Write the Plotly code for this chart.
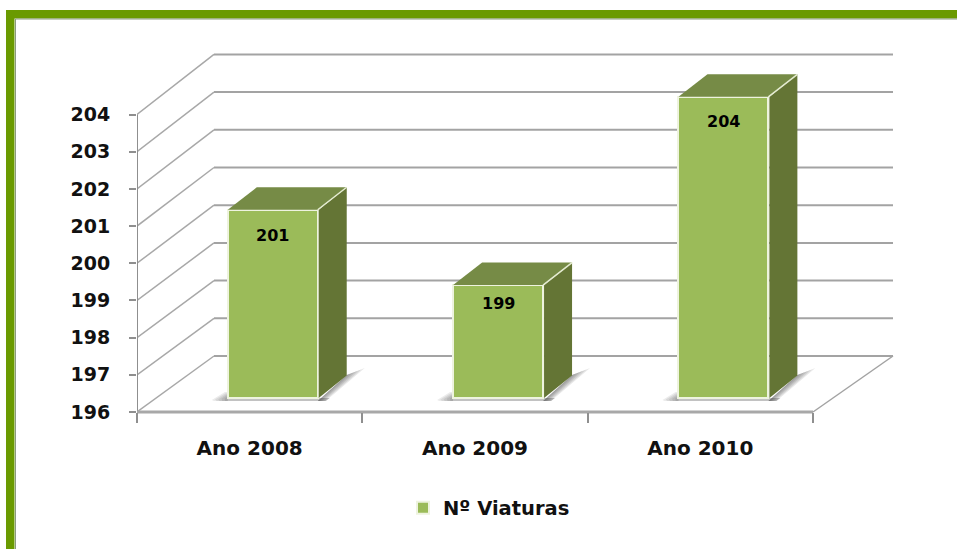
import plotly.graph_objects as go

categories = ["Ano 2008", "Ano 2009", "Ano 2010"]
series_name = "Nº Viaturas"
values = [201, 199, 204]
y_ticks = [196, 197, 198, 199, 200, 201, 202, 203, 204]
label_drop = [-26, -18, -25]

W, H = 957, 549
X0, X1, FLOOR = 137, 813, 412      # pixel frame of the front plane
BOTTOM = 417                       # lower edge of the drawing area
PX_X = (X1 - X0) / 3
PX_Y = (FLOOR - 114.5) / 8         # value-axis scale
PX_B = 37.65                       # bar scale
BAR_BOTTOM = 398
BAR_OFFSET, BAR_WIDTH = -0.097, 0.399
GREY = "#a3a3a3"

def dx(p): return p / PX_X
def dy(p): return p / PX_Y
def db(p): return p / PX_B

fig = go.Figure()
BACK_L, BACK_R = dx(77), dx(80)
BACK_FLOOR = dy(56)
BACK_SCALE = 37.7 / PX_Y
LEFT, RIGHT = -0.5, 2.5
PLOT_RIGHT = 896
X_MAX = LEFT + dx(PLOT_RIGHT - X0)

def line(x, y, color=GREY, width=2):
    fig.add_trace(go.Scatter(x=x, y=y, mode="lines", xaxis="x", yaxis="y", line=dict(color=color, width=width),
                             showlegend=False, hoverinfo="skip"))

# wall and gridlines
for t in y_ticks:
    back = y_ticks[0] + BACK_FLOOR + (t - y_ticks[0]) * BACK_SCALE
    line([LEFT, LEFT + BACK_L], [t, back], "#a8a8a8", 1.5)
    line([LEFT + BACK_L, RIGHT + BACK_R], [back, back], GREY, 2)
# front value-axis line, floor edges
line([LEFT, LEFT], [y_ticks[0], y_ticks[-1]], "#8f8f8f", 2)
line([LEFT, RIGHT], [y_ticks[0], y_ticks[0]], "#a8a8a8", 3)
line([RIGHT, RIGHT + BACK_R], [y_ticks[0], y_ticks[0] + BACK_FLOOR], GREY, 1.5)

# soft shadows on the floor
base_val = y_ticks[0] + dy(FLOOR - BAR_BOTTOM)
shade_levels = [1.0, 0.8, 0.6, 0.4, 0.2]
for i in range(len(values)):
    x_l = i + BAR_OFFSET
    x_r = x_l + BAR_WIDTH
    polys = [(x_l, [(0, 0), (BAR_WIDTH * PX_X + 12, 0), (BAR_WIDTH * PX_X + 8, 3), (0, 3)], "rgba(0,0,0,0.24)")]
    for k in shade_levels:
        polys.append((x_l, [(0, 3), (0, -6 * k), (-3 * k, -6 * k), (-16 * k, 2 * k), (-14 * k, 3)], "rgba(0,0,0,0.08)"))
        polys.append((x_r, [(0, 3), (29, -23), (29 + 18 * k, -23 - 7 * k),
                            (14.5 + 12.5 * k, -10 - 3 * k), (8 * k, 3)], "rgba(0,0,0,0.09)"))
    for ref, pts, col in polys:
        fig.add_trace(go.Scatter(x=[ref + dx(p[0]) for p in pts], y=[base_val - dy(p[1]) for p in pts],
                                 mode="lines", fill="toself", fillcolor=col, line=dict(width=0),
                                 xaxis="x", yaxis="y", showlegend=False, hoverinfo="skip"))

# front faces
fig.add_trace(go.Bar(x=categories, y=[v - y_ticks[0] for v in values], base=y_ticks[0], name=series_name,
                     width=BAR_WIDTH, offset=BAR_OFFSET, xaxis="x2", yaxis="y2",
                     marker=dict(color="#9BBB59", line=dict(color="#EEF3DF", width=2))))

# side and top faces of each bar
D_X, D_Y = dx(29), db(22.5)
for i, v in enumerate(values):
    x_l = i + BAR_OFFSET
    x_r = x_l + BAR_WIDTH
    b = y_ticks[0]
    fig.add_trace(go.Scatter(x=[x_r + dx(1), x_r + D_X, x_r + D_X, x_r + dx(1)], y=[b, b + D_Y, v + D_Y, v],
                             mode="lines", fill="toself", fillcolor="#647535", line=dict(width=0),
                             xaxis="x3", yaxis="y2", showlegend=False, hoverinfo="skip"))
    fig.add_trace(go.Scatter(x=[x_l, x_l + D_X, x_r + D_X, x_r], y=[v, v + D_Y, v + D_Y, v],
                             mode="lines", fill="toself", fillcolor="#768B46", line=dict(width=0),
                             xaxis="x3", yaxis="y2", showlegend=False, hoverinfo="skip"))
    fig.add_trace(go.Scatter(x=[x_r, x_r + D_X], y=[v, v + D_Y], mode="lines",
                             line=dict(color="#E4EBD0", width=1.5),
                             xaxis="x3", yaxis="y2", showlegend=False, hoverinfo="skip"))

FONT = "DejaVu Sans"

annotations = [dict(x=i + BAR_OFFSET + BAR_WIDTH / 2, y=v, xref="x3", yref="y2", text=f"<b>{v}</b>", showarrow=False,
                    yshift=label_drop[i], font=dict(family=FONT, size=16, color="#000000"))
               for i, v in enumerate(values)]

dom_x = [X0 / W, PLOT_RIGHT / W]
dom_y = [(H - BOTTOM) / H, 1]
y_range = [y_ticks[0] - dy(BOTTOM - FLOOR), y_ticks[0] + dy(FLOOR)]
y2_range = [y_ticks[0] - db(BOTTOM - BAR_BOTTOM), y_ticks[0] + db(BAR_BOTTOM)]

GREEN = "#6A9A00"
shapes = [
    dict(type="rect", xref="paper", yref="paper", x0=6 / W, x1=14.5 / W, y0=0, y1=1 - 10 / H,
         fillcolor=GREEN, line=dict(width=0)),
    dict(type="rect", xref="paper", yref="paper", x0=6 / W, x1=1, y0=1 - 18.5 / H, y1=1 - 10 / H,
         fillcolor=GREEN, line=dict(width=0)),
    dict(type="line", xref="paper", yref="paper", x0=15.5 / W, x1=15.5 / W, y0=0, y1=1 - 19 / H,
         line=dict(color="#8a9a80", width=1)),
    dict(type="line", xref="paper", yref="paper", x0=15.5 / W, x1=1, y0=1 - 19 / H, y1=1 - 19 / H,
         line=dict(color="#8a9a80", width=1)),
]

fig.update_layout(
    width=W, height=H, margin=dict(l=0, r=0, t=0, b=0),
    paper_bgcolor="white", plot_bgcolor="rgba(0,0,0,0)",
    bargap=0, shapes=shapes, annotations=annotations,
    xaxis=dict(domain=dom_x, range=[LEFT, X_MAX], visible=False),
    xaxis2=dict(overlaying="x", type="category", categoryorder="array", categoryarray=categories,
                range=[LEFT, X_MAX], anchor="free", position=(H - FLOOR) / H, side="bottom", tickson="boundaries",
                ticks="outside", ticklen=10, tickwidth=2, tickcolor="#8f8f8f",
                showline=False, showgrid=False, ticklabelstandoff=22,
                tickfont=dict(family=FONT, size=20, color="#111111", weight="bold")),
    xaxis3=dict(overlaying="x", range=[LEFT, X_MAX], visible=False),
    yaxis=dict(domain=dom_y, range=y_range, tickmode="array", tickvals=y_ticks, ticktext=[str(t) for t in y_ticks],
               ticks="outside", ticklen=7, tickwidth=2, tickcolor="#8f8f8f", showgrid=False, zeroline=False,
               showline=False, ticklabelstandoff=15,
               tickfont=dict(family=FONT, size=19, color="#111111", weight="bold")),
    yaxis2=dict(overlaying="y", range=y2_range, visible=False),
    legend=dict(x=0.511, xanchor="center", y=(H - 508) / H, yanchor="middle",
                font=dict(family=FONT, size=19.5, color="#111111", weight="bold"), bgcolor="rgba(0,0,0,0)"),
    showlegend=True,
)
fig.write_html("out.html", config=dict(displayModeBar=False),
               post_script=("document.documentElement.style.height='100%';document.body.style.margin='0';"
                            "document.body.style.height='100%';document.body.style.overflow='hidden';"
                            "var gd=document.getElementById('{plot_id}');gd.style.height='555px';gd.style.width='957px';"
                            "Plotly.relayout(gd,{width:957,height:555});"))
